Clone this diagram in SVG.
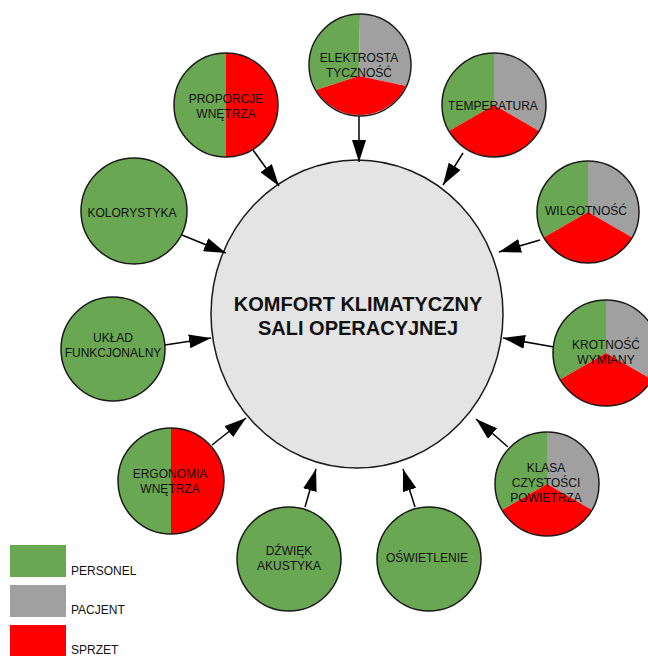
<svg xmlns="http://www.w3.org/2000/svg" width="648" height="656" viewBox="0 0 648 656">
<style>
.g{fill:#6aa753}.p{fill:#a0a0a0}.r{fill:#ff0000}
.o{fill:none;stroke:#1a1a1a;stroke-width:1.5}
.t{font-family:"Liberation Sans",Arial,sans-serif;font-size:12px;fill:#111;text-anchor:middle}
.lt{font-family:"Liberation Sans",Arial,sans-serif;font-size:12px;fill:#111}
.c{fill:#e4e4e4;stroke:#1a1a1a;stroke-width:1.5}
.ct{font-family:"Liberation Sans",Arial,sans-serif;font-size:20px;font-weight:bold;fill:#111;text-anchor:middle}
.a{stroke:#000;stroke-width:1.5;fill:none;marker-end:url(#ah)}
</style>
<defs>
<marker id="ah" viewBox="0 0 22 14" refX="22" refY="7" markerWidth="22" markerHeight="14" markerUnits="userSpaceOnUse" orient="auto">
<path d="M0,0 L22,7 L0,14 Z" fill="#000"/>
</marker>
</defs>

<g id="center">
<ellipse class="c" cx="357" cy="314" rx="146" ry="154"/>
<text class="ct" x="358" y="311">KOMFORT KLIMATYCZNY</text>
<text class="ct" x="358" y="335">SALI OPERACYJNEJ</text>
</g>

<g id="connectors">
<line class="a" x1="359" y1="116" x2="359" y2="162"/>
<line class="a" x1="253" y1="150" x2="279" y2="186"/>
<line class="a" x1="463" y1="153" x2="443" y2="185"/>
<line class="a" x1="540" y1="240" x2="499" y2="252"/>
<line class="a" x1="554" y1="347" x2="503" y2="338"/>
<line class="a" x1="508" y1="447" x2="476" y2="419"/>
<line class="a" x1="415" y1="507" x2="403" y2="469"/>
<line class="a" x1="305" y1="507" x2="316" y2="469"/>
<line class="a" x1="212" y1="445" x2="246" y2="418"/>
<line class="a" x1="165" y1="345" x2="211" y2="338"/>
<line class="a" x1="182" y1="235" x2="226" y2="253"/>
</g>

<g id="elektrostatycznosc">
<path class="g" d="M359,76 L360,14 A51,51 0 0 0 316,90 Z"/>
<path class="p" d="M359,76 L360,14 A51,51 0 0 1 406,86 Z"/>
<path class="r" d="M359,76 L406,86 A51,51 0 0 1 316,90 Z"/>
<circle class="o" cx="360" cy="65" r="51"/>
<text class="t" x="359" y="62">ELEKTROSTA</text>
<text class="t" x="359" y="77">TYCZNOŚĆ</text>
</g>

<g id="proporcje">
<path class="g" d="M226,53 A52,52 0 0 0 226,157 Z"/>
<path class="r" d="M226,53 A52,52 0 0 1 226,157 Z"/>
<circle class="o" cx="226" cy="105" r="52"/>
<text class="t" x="226" y="103">PROPORCJE</text>
<text class="t" x="226" y="118">WNĘTRZA</text>
</g>

<g id="temperatura">
<path class="g" d="M494,105 L494,53 A52,52 0 0 0 449,131 Z"/>
<path class="p" d="M494,105 L494,53 A52,52 0 0 1 539,131 Z"/>
<path class="r" d="M494,105 L539,131 A52,52 0 0 1 449,131 Z"/>
<circle class="o" cx="494" cy="105" r="52"/>
<text class="t" x="493" y="110">TEMPERATURA</text>
</g>

<g id="wilgotnosc">
<path class="g" d="M588,212 L588,161 A51,51 0 0 0 543.8,237.5 Z"/>
<path class="p" d="M588,212 L588,161 A51,51 0 0 1 632.2,237.5 Z"/>
<path class="r" d="M588,212 L632.2,237.5 A51,51 0 0 1 543.8,237.5 Z"/>
<circle class="o" cx="588" cy="212" r="51"/>
<text class="t" x="586" y="215">WILGOTNOŚĆ</text>
</g>

<g id="krotnosc">
<path class="g" d="M606,353 L606,300 A53,53 0 0 0 560.1,379.5 Z"/>
<path class="p" d="M606,353 L606,300 A53,53 0 0 1 651.9,379.5 Z"/>
<path class="r" d="M606,353 L651.9,379.5 A53,53 0 0 1 560.1,379.5 Z"/>
<circle class="o" cx="606" cy="353" r="53"/>
<text class="t" x="606" y="349">KROTNOŚĆ</text>
<text class="t" x="606" y="364">WYMIANY</text>
</g>

<g id="klasa">
<path class="g" d="M547,484 L547,432 A52,52 0 0 0 502,510 Z"/>
<path class="p" d="M547,484 L547,432 A52,52 0 0 1 592,510 Z"/>
<path class="r" d="M547,484 L592,510 A52,52 0 0 1 502,510 Z"/>
<circle class="o" cx="547" cy="484" r="52"/>
<text class="t" x="546" y="472">KLASA</text>
<text class="t" x="546" y="487">CZYSTOŚCI</text>
<text class="t" x="546" y="502">POWIETRZA</text>
</g>

<g id="kolorystyka">
<circle class="g" cx="134" cy="211" r="53"/>
<circle class="o" cx="134" cy="211" r="53"/>
<text class="t" x="132" y="217">KOLORYSTYKA</text>
</g>

<g id="uklad">
<circle class="g" cx="113" cy="349" r="52"/>
<circle class="o" cx="113" cy="349" r="52"/>
<text class="t" x="113" y="342">UKŁAD</text>
<text class="t" x="113" y="357">FUNKCJONALNY</text>
</g>

<g id="ergonomia">
<path class="g" d="M171,428 A53,53 0 0 0 171,534 Z"/>
<path class="r" d="M171,428 A53,53 0 0 1 171,534 Z"/>
<circle class="o" cx="171" cy="481" r="53"/>
<text class="t" x="170" y="478">ERGONOMIA</text>
<text class="t" x="170" y="493">WNĘTRZA</text>
</g>

<g id="dzwiek">
<circle class="g" cx="289" cy="559" r="52"/>
<circle class="o" cx="289" cy="559" r="52"/>
<text class="t" x="289" y="555">DŹWIĘK</text>
<text class="t" x="289" y="570">AKUSTYKA</text>
</g>

<g id="oswietlenie">
<circle class="g" cx="429" cy="559" r="52"/>
<circle class="o" cx="429" cy="559" r="52"/>
<text class="t" x="427" y="562">OŚWIETLENIE</text>
</g>

<g id="legend">
<rect class="g" x="10" y="545" width="56" height="32"/>
<rect class="p" x="10" y="585" width="56" height="32"/>
<rect class="r" x="10" y="625" width="56" height="31"/>
<text class="lt" x="71" y="575">PERSONEL</text>
<text class="lt" x="71" y="614">PACJENT</text>
<text class="lt" x="71" y="654">SPRZET</text>
</g>
</svg>
